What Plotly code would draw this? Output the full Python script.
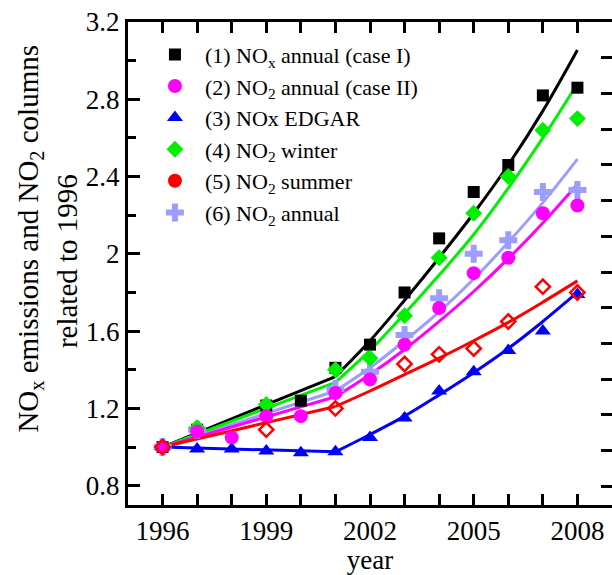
import plotly.graph_objects as go

# ---- data: relative change with respect to 1996 ----
years = list(range(1996, 2009))

nox_case1 = [1.00, 1.09, None, 1.215, 1.24, 1.41, 1.53, 1.80, 2.08, 2.32, 2.46, 2.82, 2.86]
no2_case2 = [1.00, 1.08, 1.05, 1.16, 1.16, 1.28, 1.35, 1.53, 1.72, 1.90, 1.98, 2.21, 2.25]
nox_edgar = [1.00, 0.99, 0.99, 0.98, 0.97, 0.975, 1.05, 1.15, 1.29, 1.39, 1.50, 1.60, 1.79]
no2_winter = [1.00, 1.10, None, 1.22, None, 1.40, 1.46, 1.68, 1.98, 2.21, 2.40, 2.64, 2.70]
no2_summer = [1.00, None, None, 1.09, None, 1.20, None, 1.43, 1.48, 1.51, 1.65, 1.83, 1.80]
no2_annual = [1.00, 1.09, None, None, None, 1.30, 1.39, 1.58, 1.77, 2.00, 2.07, 2.32, 2.33]

# trend fits: straight line 1996-2001, growth curve 2001-2008
early_years = [1996, 2001]
late_years = list(range(2001, 2009))

fit1_early = [1.00, 1.365]
fit1_late = [1.365, 1.55, 1.76, 1.98, 2.21, 2.46, 2.74, 3.055]
fit2_early = [1.00, 1.26]
fit2_late = [1.26, 1.375, 1.505, 1.65, 1.805, 1.975, 2.16, 2.36]
fit3_early = [1.00, 0.975]
fit3_late = [0.975, 1.065, 1.16, 1.27, 1.385, 1.51, 1.65, 1.80]
fit4_early = [1.00, 1.335]
fit4_late = [1.335, 1.50, 1.69, 1.89, 2.10, 2.34, 2.60, 2.88]
fit5_early = [1.00, 1.21]
fit5_late = [1.21, 1.29, 1.375, 1.46, 1.55, 1.645, 1.75, 1.86]
fit6_early = [1.00, 1.29]
fit6_late = [1.29, 1.41, 1.55, 1.70, 1.87, 2.06, 2.265, 2.49]

labels = [
    "(1) NO<sub>x</sub> annual (case I)",
    "(2) NO<sub>2</sub> annual (case II)",
    "(3) NOx EDGAR",
    "(4) NO<sub>2</sub> winter",
    "(5) NO<sub>2</sub> summer",
    "(6) NO<sub>2</sub> annual",
]
y_title_lines = ["NO<sub>x</sub> emissions and NO<sub>2</sub> columns", "related to 1996"]

BLACK = "#000000"
MAGENTA = "#ff00ff"
BLUE = "#0000ff"
GREEN = "#00f000"
RED = "#ff0000"
LAVENDER = "#9d9dff"

FONT = "Liberation Serif, Times New Roman, serif"

fig = go.Figure()

# fitted trend lines
fits = [
    (fit6_early, fit6_late, LAVENDER),
    (fit1_early, fit1_late, BLACK),
    (fit4_early, fit4_late, GREEN),
    (fit2_early, fit2_late, MAGENTA),
    (fit5_early, fit5_late, RED),
    (fit3_early, fit3_late, BLUE),
]
for early, late, color in fits:
    fig.add_trace(go.Scatter(x=early_years, y=early, mode="lines",
                             line=dict(color=color, width=3),
                             showlegend=False, hoverinfo="skip"))
    fig.add_trace(go.Scatter(x=late_years, y=late, mode="lines",
                             line=dict(color=color, width=3, shape="spline"),
                             showlegend=False, hoverinfo="skip"))

# measured points
fig.add_trace(go.Scatter(x=years, y=no2_annual, mode="markers", name=labels[5],
                         legendrank=6,
                         marker=dict(symbol="cross", size=15, color=LAVENDER)))
fig.add_trace(go.Scatter(x=years, y=nox_case1, mode="markers", name=labels[0],
                         legendrank=1,
                         marker=dict(symbol="square", size=12, color=BLACK)))
fig.add_trace(go.Scatter(x=years, y=no2_winter, mode="markers", name=labels[3],
                         legendrank=4,
                         marker=dict(symbol="diamond", size=13, color=GREEN)))
fig.add_trace(go.Scatter(x=years, y=nox_edgar, mode="markers", name=labels[2],
                         legendrank=3,
                         marker=dict(symbol="triangle-up", size=14, color=BLUE)))
fig.add_trace(go.Scatter(x=years, y=no2_case2, mode="markers", name=labels[1],
                         legendrank=2,
                         marker=dict(symbol="circle", size=14, color=MAGENTA)))
fig.add_trace(go.Scatter(x=years, y=no2_summer, mode="markers", showlegend=False,
                         marker=dict(symbol="diamond-open", size=11, color=RED,
                                     line=dict(width=2.5, color=RED))))
# legend key for the summer series
fig.add_trace(go.Scatter(x=[None], y=[None], mode="markers", name=labels[4],
                         legendrank=5,
                         marker=dict(symbol="circle", size=14, color=RED)))
# carrier for the right-hand tick axis
fig.add_trace(go.Scatter(x=[None], y=[None], yaxis="y2", showlegend=False,
                         hoverinfo="skip"))

# two-line vertical axis title
fig.add_annotation(text=y_title_lines[0], textangle=-90, showarrow=False,
                   xref="paper", yref="paper", x=-0.202, y=0.552,
                   xanchor="center", yanchor="middle",
                   font=dict(family=FONT, size=29, color="black"))
fig.add_annotation(text=y_title_lines[1], textangle=-90, showarrow=False,
                   xref="paper", yref="paper", x=-0.126, y=0.505,
                   xanchor="center", yanchor="middle",
                   font=dict(family=FONT, size=29, color="black"))

fig.update_layout(
    width=612, height=575,
    margin=dict(l=128, r=0, t=22, b=70),
    paper_bgcolor="white", plot_bgcolor="white",
    font=dict(family=FONT, size=27, color="black"),
    showlegend=True,
    legend=dict(
        x=0.035, y=0.976, xanchor="left", yanchor="top",
        bgcolor="rgba(0,0,0,0)", borderwidth=0,
        font=dict(family=FONT, size=22, color="black"),
        itemwidth=50, traceorder="normal",
    ),
    xaxis=dict(
        range=[1995, 2009],
        tickmode="linear", tick0=1996, dtick=3,
        ticks="inside", ticklen=11, tickwidth=2.5, tickcolor="black",
        minor=dict(dtick=1, tick0=1996, ticks="inside", ticklen=11,
                   tickwidth=2.5, tickcolor="black"),
        showline=True, linewidth=3, linecolor="black", mirror="allticks",
        showgrid=False, zeroline=False,
        tickfont=dict(family=FONT, size=27),
        title=dict(text="year", font=dict(family=FONT, size=27), standoff=9),
    ),
    yaxis=dict(
        range=[0.7, 3.2],
        tickmode="linear", tick0=0.8, dtick=0.4,
        ticks="inside", ticklen=12, tickwidth=2.5, tickcolor="black",
        minor=dict(dtick=0.2, tick0=0.8, ticks="inside", ticklen=8,
                   tickwidth=2.5, tickcolor="black"),
        showline=True, linewidth=3, linecolor="black",
        showgrid=False, zeroline=False,
        tickfont=dict(family=FONT, size=27),
    ),
    yaxis2=dict(
        overlaying="y", side="right", range=[-0.52, 13],
        tickmode="linear", tick0=0, dtick=1,
        ticks="inside", ticklen=11, tickwidth=2.5, tickcolor="black",
        showticklabels=False, showline=False, showgrid=False, zeroline=False,
    ),
)

fig.write_html("out.html")
